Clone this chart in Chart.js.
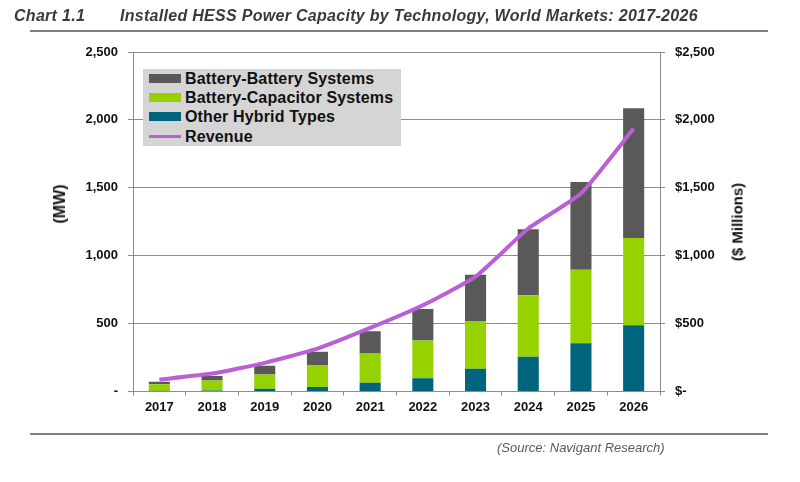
<!DOCTYPE html>
<html>
<head>
<meta charset="utf-8">
<title>Installed HESS Power Capacity</title>
<script src="https://cdn.jsdelivr.net/npm/chart.js@4"></script>
<style>
    html, body { margin: 0; padding: 0; background: #fff; }
    body { width: 800px; height: 482px; position: relative; overflow: hidden; font-family: "Liberation Sans", Arial, sans-serif; }
    canvas { position: absolute; left: 0; top: 0; }
    .txt { position: absolute; white-space: nowrap; }
    .head { font: italic bold 16px "Liberation Sans", Arial, sans-serif; letter-spacing: 0.29px; color: #3a3a3a; top: 7px; }
    .rule { position: absolute; left: 30px; width: 738px; height: 2px; background: #7f7f7f; }
    .axis-title { font: bold 15px "Liberation Sans", Arial, sans-serif; color: #111; transform: translate(-50%, -50%) rotate(-90deg); }
    #legend { position: absolute; left: 143px; top: 69px; width: 258px; height: 77px; background: #d5d5d5; }
    #legend .row { position: absolute; left: 0; height: 19px; font: bold 16px/19px "Liberation Sans", Arial, sans-serif; letter-spacing: 0.15px; color: #111; white-space: nowrap; }
    #legend .key { position: absolute; left: 6px; width: 32px; }
    #legend .label { position: absolute; left: 42px; }
</style>
</head>
<body>
<canvas id="hessChart" width="800" height="482"></canvas>

<div class="txt head" style="left:14px">Chart 1.1</div>
<div class="txt head" style="left:120px">Installed HESS Power Capacity by Technology, World Markets: 2017-2026</div>
<div class="rule" style="top:30px"></div>
<div class="rule" style="top:433px"></div>
<div class="txt axis-title" style="left:60px;top:204px;font-size:16px">(MW)</div>
<div class="txt axis-title" style="left:737px;top:222px">($ Millions)</div>
<div id="legend"></div>
<div class="txt" style="left:497px;top:440px;font:italic 13px 'Liberation Sans',Arial,sans-serif;color:#595959">(Source: Navigant Research)</div>

<script>
const years = ['2017', '2018', '2019', '2020', '2021', '2022', '2023', '2024', '2025', '2026'];
const otherHybrid = [5, 8, 20, 34, 64, 98, 167, 255, 355, 488];
const batteryCapacitor = [49, 73, 105, 157, 215, 277, 353, 453, 542, 642];
const batteryBattery = [17, 34, 64, 101, 165, 233, 340, 486, 645, 956];
const revenue = [88, 132, 211, 316, 468, 635, 846, 1200, 1458, 1936];
const axisTicks = [0, 500, 1000, 1500, 2000, 2500];

const GREY = '#8c8c8c';
const TICK_FONT = { family: '"Liberation Sans", Arial, sans-serif', size: 13, weight: 'bold' };

// bars stack on the left axis, revenue sits on the right one
const datasets = [
    { type: 'line', label: 'Revenue', data: revenue, yAxisID: 'y2', borderColor: '#bb5fd6', borderWidth: 4, pointRadius: 0, tension: 0.15, order: 0 },
    { label: 'Other Hybrid Types', data: otherHybrid, backgroundColor: '#00647d', order: 1 },
    { label: 'Battery-Capacitor Systems', data: batteryCapacitor, backgroundColor: '#96d200', order: 1 },
    { label: 'Battery-Battery Systems', data: batteryBattery, backgroundColor: '#595959', order: 1 }
];

function fixedTicks(axis) {
    axis.ticks = axisTicks.map(v => ({ value: v }));
}

new Chart(document.getElementById('hessChart').getContext('2d'), {
    type: 'bar',
    data: { labels: years, datasets: datasets },
    options: {
        responsive: false,
        animation: false,
        barPercentage: 0.4,
        categoryPercentage: 1,
        layout: { padding: { top: 52 } },
        plugins: { legend: { display: false }, tooltip: { enabled: false } },
        scales: {
            x: {
                stacked: true,
                afterFit: axis => { axis.height = 90.5; },
                border: { color: GREY },
                grid: { drawOnChartArea: false, color: GREY, tickLength: 4 },
                ticks: { color: '#111', font: TICK_FONT, maxRotation: 0, padding: 4 }
            },
            y: {
                stacked: true,
                min: 0,
                max: 2500,
                afterBuildTicks: fixedTicks,
                afterFit: axis => { axis.width = 133; },
                border: { color: GREY },
                grid: { color: GREY, tickLength: 5 },
                ticks: {
                    color: '#111',
                    font: TICK_FONT,
                    padding: 10,
                    callback: v => v === 0 ? '-' : v.toLocaleString('en-US')
                }
            },
            y2: {
                position: 'right',
                min: 0,
                max: 2500,
                afterBuildTicks: fixedTicks,
                afterFit: axis => { axis.width = 140; },
                border: { color: GREY },
                grid: { drawOnChartArea: false, color: GREY, tickLength: 5 },
                ticks: {
                    color: '#111',
                    font: TICK_FONT,
                    padding: 10,
                    callback: v => v === 0 ? '$-' : '$' + v.toLocaleString('en-US')
                }
            }
        }
    }
});

// legend box sits over the plot, top row is the top of the stack
const legendOrder = [datasets[3], datasets[2], datasets[1], datasets[0]];
const legendBox = document.getElementById('legend');
legendOrder.forEach((ds, i) => {
    const row = document.createElement('div');
    row.className = 'row';
    row.style.top = (i * 19.2) + 'px';
    row.style.width = '100%';
    const isLine = ds.type === 'line';
    const key = document.createElement('div');
    key.className = 'key';
    key.style.top = isLine ? '8px' : '5px';
    key.style.height = isLine ? '3px' : '9px';
    key.style.background = isLine ? ds.borderColor : ds.backgroundColor;
    const label = document.createElement('div');
    label.className = 'label';
    label.textContent = ds.label;
    row.appendChild(key);
    row.appendChild(label);
    legendBox.appendChild(row);
});
</script>
</body>
</html>
